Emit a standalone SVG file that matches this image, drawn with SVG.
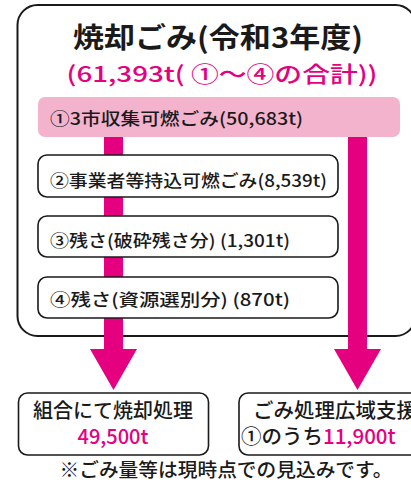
<svg xmlns="http://www.w3.org/2000/svg" width="411" height="485" viewBox="0 0 411 485">
<defs>
<style>
.t{font-family:"Noto Sans CJK JP","Noto Sans",sans-serif;font-weight:700;fill:#1a1a1a}
.p{fill:#e4007f}
.m{font-weight:500}
.box{fill:#fff;stroke:#1a1a1a;stroke-width:1.6}
.bar{fill:#e4007f}
</style>
</defs>
<rect width="411" height="485" fill="#fff"/>
<g id="outer">
<rect x="17.5" y="5" width="398" height="331" rx="20" fill="#fff" stroke="#1a1a1a" stroke-width="2"/>
<text class="t" x="218" y="48" font-size="28" text-anchor="middle" textLength="290" lengthAdjust="spacingAndGlyphs">焼却ごみ(令和3年度)</text>
<text class="t p m" x="222" y="82" font-size="22" text-anchor="middle" textLength="311" lengthAdjust="spacingAndGlyphs">(61,393t( ①～④の合計))</text>
</g>
<g id="connectors">
<rect class="bar" x="104" y="137" width="19" height="213"/>
<polygon class="bar" points="90,349 137,349 113.5,390"/>
<rect class="bar" x="348" y="137" width="19" height="213"/>
<polygon class="bar" points="334,349 381,349 357.5,390"/>
</g>
<g id="n1">
<rect x="38" y="97" width="362" height="40" rx="7" fill="#f4b3cd"/>
<text class="t m" x="50" y="125" font-size="17" textLength="253" lengthAdjust="spacingAndGlyphs">①3市収集可燃ごみ(50,683t)</text>
</g>
<g id="n2">
<rect class="box" x="38" y="155" width="300" height="42" rx="9"/>
<text class="t m" x="50" y="187" font-size="17" textLength="277" lengthAdjust="spacingAndGlyphs">②事業者等持込可燃ごみ(8,539t)</text>
</g>
<g id="n3">
<rect class="box" x="38" y="216" width="300" height="41" rx="9"/>
<text class="t m" x="50" y="247" font-size="17" textLength="240" lengthAdjust="spacingAndGlyphs">③残さ(破砕残さ分) (1,301t)</text>
</g>
<g id="n4">
<rect class="box" x="38" y="277" width="300" height="41" rx="9"/>
<text class="t m" x="50" y="306" font-size="17" textLength="240" lengthAdjust="spacingAndGlyphs">④残さ(資源選別分) (870t)</text>
</g>
<g id="n5">
<rect class="box" x="18.5" y="393" width="190" height="62" rx="9"/>
<text class="t m" x="113" y="418" font-size="20" text-anchor="middle" textLength="160" lengthAdjust="spacingAndGlyphs">組合にて焼却処理</text>
<text class="t p m" x="113" y="444" font-size="20" text-anchor="middle">49,500t</text>
</g>
<g id="n6">
<rect class="box" x="239" y="393" width="190" height="62" rx="9"/>
<text class="t m" x="253" y="418" font-size="20.5">ごみ処理広域支援</text>
<text class="t m" x="241" y="444" font-size="20.5">①のうち<tspan class="p">11,900t</tspan></text>
</g>
<text class="t m" x="226" y="477" font-size="19" text-anchor="middle" textLength="333" lengthAdjust="spacingAndGlyphs">※ごみ量等は現時点での見込みです。</text>
</svg>
